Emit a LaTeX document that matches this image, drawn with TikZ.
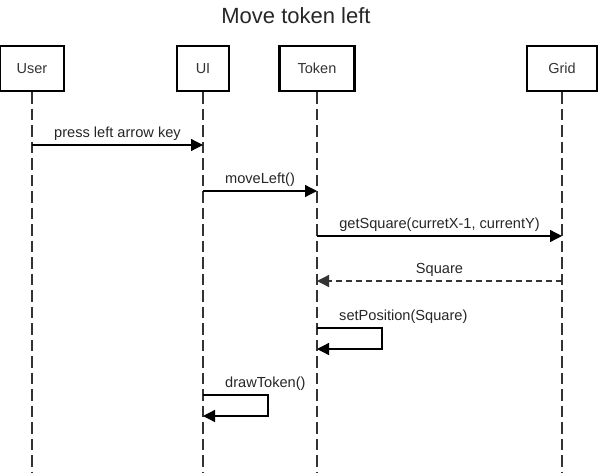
\documentclass[tikz,border=0pt]{standalone}
\usepackage{fontspec}
\setmainfont{Liberation Sans}
\usetikzlibrary{arrows.meta}

\tikzset{
  actor/.style={draw, line width=2.2pt, minimum height=45pt, inner sep=0pt,
    text=black!80, font=\fontsize{14.5}{17}\selectfont},
  lifeline/.style={draw=black!80, line width=1.2pt, dash pattern=on 11.5pt off 5pt},
  msg/.style={draw, line width=1.3pt, -{Triangle[length=12pt,width=12pt]}},
  reply/.style={msg, draw=black!80, dash pattern=on 6pt off 4pt},
  txt/.style={font=\fontsize{14.6}{17}\selectfont, inner sep=1pt, text=black!85}
}

\begin{document}
\begin{tikzpicture}[x=1pt,y=-1pt]
\useasboundingbox (0,0) rectangle (601,473);

\node[font=\fontsize{22}{26}\selectfont, text=black!85] (title) at (296,16) {Move token left};

\node[actor, minimum width=64pt] (user) at (32,68.5) {User};
\node[actor, minimum width=52pt] (ui) at (203,68.5) {UI};
\node[actor, minimum width=75pt] (token) at (317,68.5) {Token};
\node[actor, minimum width=70pt] (grid) at (562,68.5) {Grid};

% lifelines
\coordinate (bottom) at (0,473);
\foreach \n in {user,ui,token,grid}
\draw[lifeline] (\n.south) -- (\n.south |- bottom);

% message levels
\coordinate (press) at (0,145);
\coordinate (move) at (0,191);
\coordinate (get) at (0,236);
\coordinate (ret) at (0,281);
\coordinate (setpos) at (0,328);
\coordinate (setposend) at (0,349);
\coordinate (draw) at (0,395);
\coordinate (drawend) at (0,416);

\draw[msg] (user |- press) -- node[txt, above=3pt] {press left arrow key} (ui |- press);
\draw[msg] (ui |- move) -- node[txt, above=3pt] {moveLeft()} (token |- move);
\draw[msg] (token |- get) -- node[txt, above=3pt] {getSquare(curretX-1, currentY)} (grid |- get);
\draw[reply] (grid |- ret) -- node[txt, above=3pt] {Square} (token |- ret);

% self calls
\draw[msg] (token |- setpos) -- ++(65,0) |- (token |- setposend);
\node[txt, anchor=south west] (setposlbl) at ([shift={(21pt,3pt)}]token |- setpos) {setPosition(Square)};
\draw[msg] (ui |- draw) -- ++(65,0) |- (ui |- drawend);
\node[txt, anchor=south west] (drawlbl) at ([shift={(21pt,3pt)}]ui |- draw) {drawToken()};
\end{tikzpicture}
\end{document}
